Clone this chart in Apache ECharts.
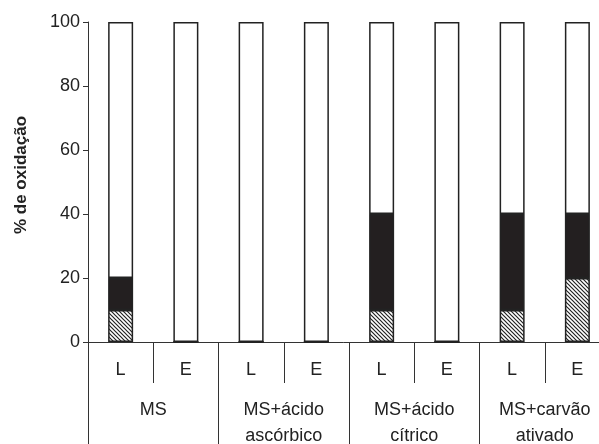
<!DOCTYPE html>
<html><head><meta charset="utf-8">
<script src="https://cdn.jsdelivr.net/npm/echarts@6/dist/echarts.min.js"></script>
<style>html,body{margin:0;padding:0;background:#fff}#c{width:599px;height:444px}</style>
</head><body><div id="c"></div>
<script>
const categories = ['L','E','L','E','L','E','L','E'];
const groups = ['MS','MS+ácido\nascórbico','MS+ácido\ncítrico','MS+carvão\nativado'];
const hatched = [10,0,0,0,10,0,10,20];
const black = [10,0,0,0,30,0,30,20];
const white = [80,100,100,100,60,100,60,60];
const yTicks = [0,20,40,60,80,100];

function makePattern(){
  const c = document.createElement('canvas');
  c.width = 4; c.height = 4;
  const g = c.getContext('2d');
  g.fillStyle = '#fff'; g.fillRect(0,0,4,4);
  g.strokeStyle = '#222'; g.lineWidth = 1.2;
  g.beginPath();
  g.moveTo(-1,-1); g.lineTo(5,5);
  g.moveTo(-3,1); g.lineTo(1,5);
  g.moveTo(1,-3); g.lineTo(5,1);
  g.stroke();
  return {image: c, repeat: 'repeat'};
}
const pat = makePattern();
const lineCol = '#333';
const txt = {fontFamily:'Liberation Sans, Arial, sans-serif', color:'#222'};
const chart = echarts.init(document.getElementById('c'));
const border = {borderColor:'#222', borderWidth:1.5};
const gridBox = {left:88,right:-11,top:22,bottom:102,containLabel:false,outerBoundsMode:'none'};
chart.setOption({
  animation:false,
  grid:[Object.assign({},gridBox),Object.assign({},gridBox)],
  xAxis:[
    {type:'category',gridIndex:0,data:categories,position:'bottom',
     axisLine:{show:true,lineStyle:{color:lineCol,width:1}},
     axisTick:{show:true,length:41,interval:0,lineStyle:{color:lineCol,width:1}},
     axisLabel:Object.assign({margin:19,fontSize:18,interval:0},txt)},
    {type:'category',gridIndex:1,data:groups,position:'bottom',
     axisLine:{show:false},
     axisTick:{show:true,length:102,interval:0,lineStyle:{color:lineCol,width:1}},
     axisLabel:Object.assign({margin:55,fontSize:18,lineHeight:26,interval:0},txt)}
  ],
  yAxis:[
    {type:'value',gridIndex:0,min:0,max:100,interval:20,
     name:'% de oxidação',nameLocation:'middle',nameGap:58,
     nameTextStyle:Object.assign({fontSize:17,fontWeight:'bold',padding:[0,0,0,14]},txt),
     axisLine:{show:true,lineStyle:{color:lineCol}},
     axisTick:{show:true,length:5,lineStyle:{color:lineCol}},
     splitLine:{show:false},
     axisLabel:Object.assign({margin:8,fontSize:18,
       formatter:v=>yTicks.includes(v)?String(v):''},txt)},
    {type:'value',gridIndex:1,min:0,max:100,show:false}
  ],
  series:[
    {type:'bar',stack:'s',barWidth:25,data:hatched,itemStyle:Object.assign({color:pat},border)},
    {type:'bar',stack:'s',barWidth:25,data:black,itemStyle:Object.assign({color:'#231f20'},border)},
    {type:'bar',stack:'s',barWidth:25,data:white,itemStyle:Object.assign({color:'#fff'},border)}
  ]
});
</script></body></html>
